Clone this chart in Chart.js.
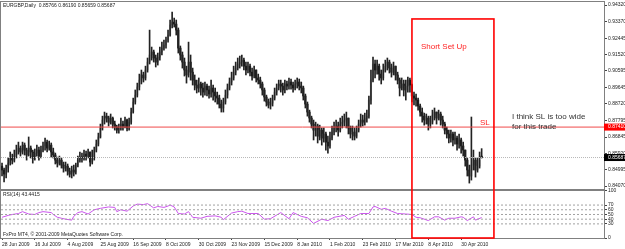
<!DOCTYPE html>
<html>
<head>
<meta charset="utf-8">
<script src="https://cdn.jsdelivr.net/npm/chart.js@4.4.0/dist/chart.umd.min.js"></script>
<style>
html, body { margin: 0; padding: 0; background: #fff; }
</style>
</head>
<body>
<canvas id="chart" width="625" height="249"></canvas>
<script>
// EURGBP daily bars, one per trading day from 28 Jun 2009
const closes = [
0.8498,0.8475,0.8509,0.8537,0.8566,0.8554,0.8583,0.8611,0.8622,0.8600,
0.8639,0.8611,0.8583,0.8622,0.8600,0.8566,0.8594,0.8611,0.8577,0.8611,
0.8634,0.8656,0.8622,0.8639,0.8600,0.8583,0.8554,0.8537,0.8554,0.8526,
0.8509,0.8520,0.8492,0.8475,0.8498,0.8486,0.8526,0.8554,0.8571,0.8566,
0.8588,0.8577,0.8600,0.8543,0.8566,0.8611,0.8645,0.8685,0.8736,0.8781,
0.8803,0.8792,0.8769,0.8792,0.8758,0.8741,0.8724,0.8736,0.8758,0.8747,
0.8781,0.8736,0.8769,0.8826,0.8883,0.8922,0.8968,0.9007,0.9036,0.9019,
0.9064,0.9109,0.9149,0.9166,0.9132,0.9109,0.9137,0.9166,0.9188,0.9205,
0.9234,0.9262,0.9319,0.9335,0.9324,0.9290,0.9188,0.9149,0.9109,0.9064,
0.9036,0.9109,0.9052,0.9007,0.8979,0.8962,0.8985,0.8962,0.8939,0.8973,
0.8951,0.8928,0.8962,0.8939,0.8917,0.8905,0.8871,0.8849,0.8883,0.8922,
0.8962,0.8996,0.9019,0.9052,0.9075,0.9098,0.9109,0.9120,0.9086,0.9064,
0.9086,0.9052,0.9030,0.9064,0.9019,0.9007,0.8985,0.8951,0.8911,0.8883,
0.8866,0.8877,0.8905,0.8939,0.8962,0.8985,0.8973,0.8951,0.8985,0.8973,
0.8996,0.8979,0.8962,0.8985,0.8996,0.8973,0.8962,0.8917,0.8871,0.8826,
0.8792,0.8758,0.8724,0.8747,0.8690,0.8724,0.8679,0.8702,0.8656,0.8634,
0.8679,0.8713,0.8736,0.8747,0.8724,0.8758,0.8769,0.8781,0.8792,0.8736,
0.8702,0.8713,0.8690,0.8724,0.8758,0.8781,0.8769,0.8792,0.8803,0.8894,
0.9007,0.9098,0.9064,0.9086,0.9041,0.9019,0.9064,0.9086,0.9109,0.9075,
0.9052,0.9086,0.9036,0.9007,0.8962,0.8985,0.8951,0.8973,0.9007,0.8979,
0.8917,0.8905,0.8894,0.8860,0.8826,0.8803,0.8781,0.8792,0.8758,0.8769,
0.8809,0.8826,0.8792,0.8815,0.8781,0.8758,0.8724,0.8702,0.8679,0.8702,
0.8668,0.8679,0.8645,0.8668,0.8634,0.8611,0.8554,0.8498,0.8464,0.8526,
0.8554,0.8498,0.8520,0.8554,0.85687
];
const highs = [
0.8537,0.8509,0.8526,0.8566,0.8600,0.8588,0.8611,0.8639,0.8656,0.8634,
0.8656,0.8651,0.8622,0.8685,0.8634,0.8611,0.8617,0.8639,0.8628,0.8634,
0.8656,0.8679,0.8668,0.8662,0.8651,0.8622,0.8594,0.8571,0.8577,0.8566,
0.8543,0.8543,0.8532,0.8509,0.8520,0.8526,0.8537,0.8577,0.8600,0.8594,
0.8611,0.8605,0.8617,0.8600,0.8611,0.8628,0.8668,0.8707,0.8758,0.8803,
0.8826,0.8820,0.8803,0.8815,0.8798,0.8775,0.8752,0.8758,0.8792,0.8775,
0.8798,0.8786,0.8792,0.8849,0.8905,0.8951,0.8990,0.9041,0.9064,0.9052,
0.9086,0.9132,0.9290,0.9194,0.9177,0.9149,0.9160,0.9194,0.9222,0.9234,
0.9251,0.9290,0.9347,0.9392,0.9358,0.9347,0.9302,0.9200,0.9166,0.9132,
0.9086,0.9222,0.9149,0.9075,0.9036,0.9007,0.9019,0.8996,0.8990,0.8996,
0.8985,0.8973,0.9007,0.8979,0.8962,0.8939,0.8922,0.8894,0.8905,0.8951,
0.8985,0.9019,0.9052,0.9086,0.9109,0.9132,0.9143,0.9149,0.9132,0.9109,
0.9109,0.9098,0.9075,0.9086,0.9064,0.9041,0.9024,0.8996,0.8962,0.8922,
0.8900,0.8905,0.8922,0.8962,0.8985,0.9007,0.9007,0.8990,0.9007,0.9002,
0.9019,0.9013,0.8996,0.9007,0.9019,0.9013,0.8996,0.8973,0.8928,0.8883,
0.8837,0.8803,0.8781,0.8769,0.8758,0.8752,0.8736,0.8736,0.8713,0.8690,
0.8713,0.8747,0.8769,0.8781,0.8769,0.8792,0.8803,0.8815,0.8826,0.8792,
0.8747,0.8747,0.8736,0.8747,0.8781,0.8815,0.8809,0.8820,0.8837,0.8917,
0.9064,0.9137,0.9120,0.9120,0.9098,0.9064,0.9098,0.9120,0.9132,0.9120,
0.9098,0.9109,0.9086,0.9052,0.9019,0.9019,0.9007,0.9007,0.9024,0.9019,
0.8985,0.8939,0.8928,0.8905,0.8871,0.8849,0.8820,0.8815,0.8803,0.8803,
0.8837,0.8849,0.8826,0.8837,0.8826,0.8803,0.8769,0.8741,0.8724,0.8724,
0.8713,0.8713,0.8690,0.8702,0.8679,0.8656,0.8611,0.8566,0.8526,0.8798,
0.8611,0.8566,0.8566,0.8600,0.86190
];
const lows = [
0.8464,0.8430,0.8453,0.8486,0.8526,0.8532,0.8543,0.8566,0.8588,0.8577,
0.8588,0.8583,0.8554,0.8577,0.8566,0.8537,0.8554,0.8577,0.8554,0.8566,
0.8600,0.8611,0.8600,0.8611,0.8571,0.8566,0.8532,0.8515,0.8526,0.8509,
0.8486,0.8492,0.8469,0.8458,0.8453,0.8464,0.8475,0.8515,0.8543,0.8543,
0.8554,0.8554,0.8566,0.8520,0.8532,0.8554,0.8600,0.8634,0.8679,0.8724,
0.8758,0.8769,0.8747,0.8758,0.8736,0.8724,0.8707,0.8707,0.8724,0.8724,
0.8736,0.8719,0.8724,0.8758,0.8820,0.8871,0.8911,0.8951,0.8985,0.8996,
0.9007,0.9052,0.9098,0.9120,0.9109,0.9081,0.9092,0.9120,0.9149,0.9177,
0.9188,0.9222,0.9256,0.9302,0.9307,0.9262,0.9160,0.9120,0.9075,0.9030,
0.8990,0.9024,0.9007,0.8979,0.8951,0.8934,0.8939,0.8922,0.8911,0.8922,
0.8917,0.8905,0.8911,0.8894,0.8883,0.8871,0.8849,0.8826,0.8826,0.8871,
0.8905,0.8951,0.8979,0.9007,0.9036,0.9064,0.9075,0.9086,0.9064,0.9036,
0.9047,0.9030,0.9007,0.9019,0.8996,0.8985,0.8962,0.8922,0.8888,0.8860,
0.8849,0.8843,0.8860,0.8894,0.8922,0.8951,0.8939,0.8922,0.8934,0.8951,
0.8956,0.8956,0.8939,0.8951,0.8962,0.8951,0.8934,0.8894,0.8849,0.8803,
0.8769,0.8736,0.8668,0.8690,0.8651,0.8668,0.8639,0.8656,0.8611,0.8594,
0.8622,0.8668,0.8696,0.8713,0.8690,0.8713,0.8736,0.8747,0.8736,0.8702,
0.8679,0.8668,0.8668,0.8679,0.8713,0.8741,0.8747,0.8752,0.8769,0.8792,
0.8871,0.8996,0.9019,0.9041,0.9007,0.8985,0.9007,0.9052,0.9064,0.9047,
0.9024,0.9036,0.9007,0.8985,0.8917,0.8951,0.8917,0.8894,0.8939,0.8939,
0.8883,0.8866,0.8860,0.8837,0.8803,0.8769,0.8752,0.8758,0.8724,0.8736,
0.8758,0.8781,0.8758,0.8781,0.8752,0.8736,0.8702,0.8679,0.8651,0.8656,
0.8634,0.8645,0.8611,0.8622,0.8594,0.8577,0.8520,0.8464,0.8424,0.8441,
0.8498,0.8458,0.8486,0.8509,0.85659
];
const firstOpen = 0.8520;
const lastBar = [0.85766, 0.86190, 0.85659, 0.85687]; // O H L C of the header

// RSI(14), read every few bars
const rsiIdx = [0,3,5,8,10,13,16,18,20,24,25,27,29,31,34,35,37,39,42,45,48,52,55,56,58,61,64,66,69,71,74,76,79,81,82,84,86,89,91,93,97,100,104,107,108,112,115,117,120,125,128,131,136,140,142,146,149,152,156,159,162,167,169,172,175,179,181,182,185,187,190,193,197,200,202,204,208,211,213,216,218,221,224,225,227,230,231,234];
const rsiVal = [44,48,50,52,56,51,50,54,56,54,50,44,42,40,38,46,54,56,51,60,63,66,65,56,60,57,68,72,71,73,64,67,65,68,70,66,52,51,56,44,42,46,47,44,39,53,56,57,52,52,40,41,54,41,54,46,43,31,40,37,44,48,40,46,52,52,66,67,61,63,57,52,51,50,44,43,37,45,45,38,42,42,45,44,37,45,38,43.4415];
const rsiLevels = [70, 60, 50, 40, 30];

const dateIdx = [0,16,32,48,64,80,96,112,128,144,160,176,192,208,224];
const dateLabels = ['28 Jun 2009','16 Jul 2009','4 Aug 2009','25 Aug 2009','16 Sep 2009','8 Oct 2009','30 Oct 2009','23 Nov 2009','15 Dec 2009','8 Jan 2010','1 Feb 2010','23 Feb 2010','17 Mar 2010','8 Apr 2010','30 Apr 2010'];
const priceTicks = [0.94320,0.93370,0.92445,0.91520,0.90595,0.89645,0.88720,0.87795,0.86845,0.85920,0.84995,0.84070];
const rsiTicks = [0,30,40,50,60,70,100];

const slPrice = 0.87410;
const bidPrice = lastBar[3];
const setupBox = { from: 200, to: 240, top: 0.9353 };
const notes = [
    { text: 'Short Set Up', x: 204.4, y: 0.9194, color: '#f22' },
    { text: 'SL', x: 233.2, y: 0.8764, color: '#f22' },
    { text: 'I think SL is too wide', x: 248.8, y: 0.8798, color: '#333' },
    { text: 'for this trade', x: 248.8, y: 0.8741, color: '#333' }
];

const XMIN = -0.5, XMAX = 293.7;
const small = { family: 'Liberation Sans', size: 5 };

const wickData = closes.map((c, i) => ({ x: i, y: [lows[i], highs[i]] }));
const bodyData = closes.map((c, i) => {
    const o = i === closes.length - 1 ? lastBar[0] : (i === 0 ? firstOpen : closes[i - 1]);
    return { x: i, y: [o, c], up: c >= o };
});
const rsiData = rsiIdx.map((v, k) => ({ x: v, y: rsiVal[k] }));

function hline(value, axis, color, dash)
{
    return {
        type: 'line', yAxisID: axis,
        data: [{ x: XMIN, y: value }, { x: XMAX, y: value }],
        borderColor: color, borderWidth: 1, borderDash: dash, pointRadius: 0
    };
}

const overlay = {
    id: 'overlay',
    afterDatasetsDraw(chart)
    {
        const { ctx, chartArea: a, scales } = chart;
        const x = scales.x, y = scales.y, yr = scales.yr;
        ctx.save();

        // pane separator and frame
        ctx.fillStyle = '#808080';
        ctx.fillRect(a.left, y.bottom - 1, a.right - a.left, 2);
        ctx.strokeStyle = '#808080';
        ctx.lineWidth = 1;
        ctx.strokeRect(a.left - 0.5, a.top - 0.5, a.right - a.left + 1, a.bottom - a.top + 1);

        // labels of the panes
        ctx.font = '5px "Liberation Sans"';
        ctx.fillStyle = '#222';
        ctx.textBaseline = 'middle';
        ctx.textAlign = 'left';
        ctx.fillText('EURGBP,Daily  ' + lastBar.map(v => v.toFixed(5)).join(' '), a.left + 2, a.top + 3.5);
        ctx.fillText('RSI(14) ' + rsiVal[rsiVal.length - 1], a.left + 2, yr.top + 5);
        ctx.fillText('FxPro MT4, \u00a9 2001-2009 MetaQuotes Software Corp.', a.left + 2, yr.bottom - 3);

        // price boxes on the axis
        [[slPrice, '#ff0000'], [bidPrice, '#000000']].forEach(([p, col]) => {
            const py = y.getPixelForValue(p);
            ctx.fillStyle = col;
            ctx.fillRect(a.right, py - 3.5, chart.width - a.right, 7);
            ctx.fillStyle = '#fff';
            ctx.fillText(p.toFixed(5), a.right + 4, py);
        });

        // set up box
        const x1 = x.getPixelForValue(setupBox.from), x2 = x.getPixelForValue(setupBox.to);
        const y1 = y.getPixelForValue(setupBox.top), y2 = yr.getPixelForValue(0);
        ctx.strokeStyle = '#ff0000';
        ctx.lineWidth = 1.6;
        ctx.strokeRect(x1, y1, x2 - x1, y2 - y1);

        ctx.font = '8px "Liberation Sans"';
        notes.forEach((n) => {
            ctx.fillStyle = n.color;
            ctx.fillText(n.text, x.getPixelForValue(n.x), y.getPixelForValue(n.y));
        });
        ctx.restore();
    }
};

const chart = new Chart(document.getElementById('chart').getContext('2d'), {
    type: 'bar',
    data: {
        datasets: [
            hline(slPrice, 'y', '#f04a4a', []),
            hline(bidPrice, 'y', '#b8b8b8', [1, 1]),
            ...rsiLevels.map(v => hline(v, 'yr', '#a0a0a0', [2, 2])),
            { type: 'line', yAxisID: 'yr', data: rsiData, borderColor: '#cc55ee', borderWidth: 1, pointRadius: 0, tension: 0 },
            { type: 'bar', yAxisID: 'y', data: wickData, backgroundColor: '#222', barThickness: 1, grouped: false, borderWidth: 0 },
            { type: 'bar', yAxisID: 'y', data: bodyData, grouped: false, borderWidth: 0, barThickness: 1.5, minBarLength: 1,
              backgroundColor: (c) => (c.raw && c.raw.up ? '#b4b4b4' : '#000') }
        ]
    },
    options: {
        responsive: false,
        animation: false,
        events: [],
        layout: { padding: { left: 1, top: 2, right: 0, bottom: 0 } },
        plugins: { legend: { display: false }, tooltip: { enabled: false } },
        scales: {
            x: {
                type: 'linear', position: 'bottom', min: XMIN, max: XMAX, offset: false,
                grid: { drawOnChartArea: false, offset: false, tickLength: 2, color: '#444' },
                border: { color: '#808080' },
                ticks: { font: small, color: '#222', align: 'start', padding: 2, maxRotation: 0, autoSkip: false,
                         callback: (v) => dateLabels[dateIdx.indexOf(v)] },
                afterBuildTicks: (s) => { s.ticks = dateIdx.map(v => ({ value: v })); },
                afterFit: (s) => { s.height = 11; s.paddingLeft = 0; s.paddingRight = 0; }
            },
            y: {
                type: 'linear', position: 'right', stack: 'pane', stackWeight: 188,
                min: 0.83849, max: 0.94490,
                grid: { drawOnChartArea: false, tickLength: 3, color: '#444' },
                border: { color: '#808080' },
                ticks: { font: small, color: '#222', padding: 1, autoSkip: false, callback: (v) => v.toFixed(5) },
                afterBuildTicks: (s) => { s.ticks = priceTicks.map(v => ({ value: v })); },
                afterFit: (s) => { s.width = 21; s.paddingTop = 0; s.paddingBottom = 0; }
            },
            yr: {
                type: 'linear', position: 'right', stack: 'pane', stackWeight: 48,
                min: 0, max: 102,
                grid: { drawOnChartArea: false, tickLength: 3, color: '#444' },
                border: { color: '#808080' },
                ticks: { font: small, color: '#222', padding: 1, autoSkip: false, callback: (v) => String(v) },
                afterBuildTicks: (s) => { s.ticks = rsiTicks.map(v => ({ value: v })); },
                afterFit: (s) => { s.width = 21; s.paddingTop = 0; s.paddingBottom = 0; }
            }
        }
    },
    plugins: [overlay]
});
</script>
</body>
</html>
